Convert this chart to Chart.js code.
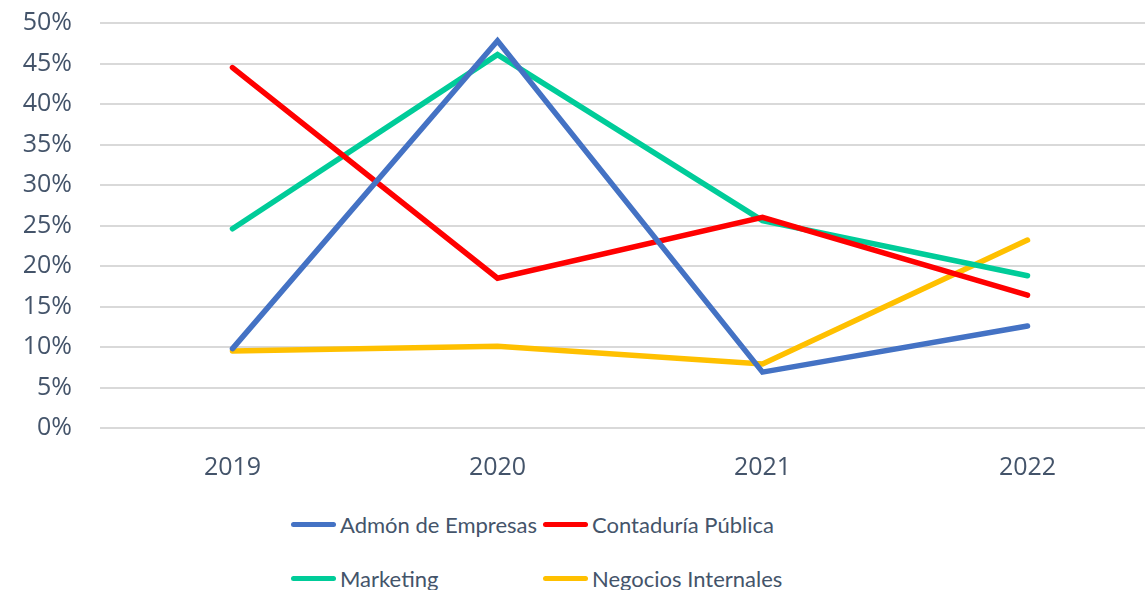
<!DOCTYPE html>
<html>
<head>
<meta charset="utf-8">
<script src="https://cdn.jsdelivr.net/npm/chart.js@4"></script>
<style>
    html, body { margin: 0; padding: 0; background: #fff; overflow: hidden; width: 1145px; height: 590px; }
    #wrap { position: absolute; left: 0; top: -20px; width: 1160px; height: 510px; }
    #legend {
        position: absolute; left: 291px; top: 505px;
        display: grid; grid-template-columns: 252px 300px; row-gap: 16px;
        font-family: Lato, sans-serif; font-size: 22px; color: #44546A;
    }
    .item { display: flex; align-items: center; white-space: nowrap; height: 38px; }
    .swatch { flex: 0 0 45px; height: 5px; border-radius: 3px; margin-right: 4px; }
</style>
</head>
<body>
<div id="wrap"><canvas id="myChart"></canvas></div>
<div id="legend"></div>
<script>
let years = ['2019', '2020', '2021', '2022'];
let admon = [9.8, 47.8, 6.9, 12.6];
let contaduria = [44.5, 18.5, 26.0, 16.4];
let marketing = [24.6, 46.1, 25.6, 18.8];
let negocios = [9.5, 10.1, 7.9, 23.2];
let seriesNames = ['Admón de Empresas', 'Contaduría Pública', 'Marketing', 'Negocios Internales'];
let seriesColors = ['#4472C4', '#FF0000', '#00CC99', '#FFC000'];

let ctx = document.getElementById('myChart').getContext('2d');
ctx.canvas.width = 1160;
ctx.canvas.height = 510;

let allSeries = [admon, contaduria, marketing, negocios];
let datasets = allSeries.map(function (values, i) {
    return {
        label: seriesNames[i],
        data: values,
        borderColor: seriesColors[i],
        backgroundColor: seriesColors[i],
        borderWidth: 5.5,
        borderCapStyle: 'round',
        borderJoinStyle: 'miter',
        pointRadius: 0,
        tension: 0
    };
});

let chart = new Chart(ctx, {
    type: 'line',
    data: { labels: years, datasets: datasets },
    options: {
        responsive: false,
        animation: false,
        layout: { padding: { top: 1, right: 0, left: 0, bottom: 0 } },
        plugins: { legend: { display: false }, tooltip: { enabled: false } },
        scales: {
            x: {
                offset: true,
                grid: { display: false },
                border: { display: false },
                ticks: { color: '#44546A', font: { family: 'Open Sans', size: 25 }, padding: 17 },
                afterFit: function (scale) { scale.height = 62; }
            },
            y: {
                min: 0,
                max: 50,
                border: { display: false },
                grid: { color: '#D9D9D9', lineWidth: 2, drawTicks: false },
                ticks: {
                    stepSize: 5,
                    color: '#44546A',
                    font: { family: 'Open Sans', size: 25 },
                    padding: 28,
                    callback: function (v) { return v + '%'; }
                },
                afterFit: function (scale) { scale.width = 100; }
            }
        }
    }
});

// legend laid out in two columns like the original
let legend = document.getElementById('legend');
seriesNames.forEach(function (name, i) {
    let item = document.createElement('div');
    item.className = 'item';
    item.innerHTML = '<span class="swatch" style="background:' + seriesColors[i] + '"></span>' + name;
    legend.appendChild(item);
});
</script>
</body>
</html>
